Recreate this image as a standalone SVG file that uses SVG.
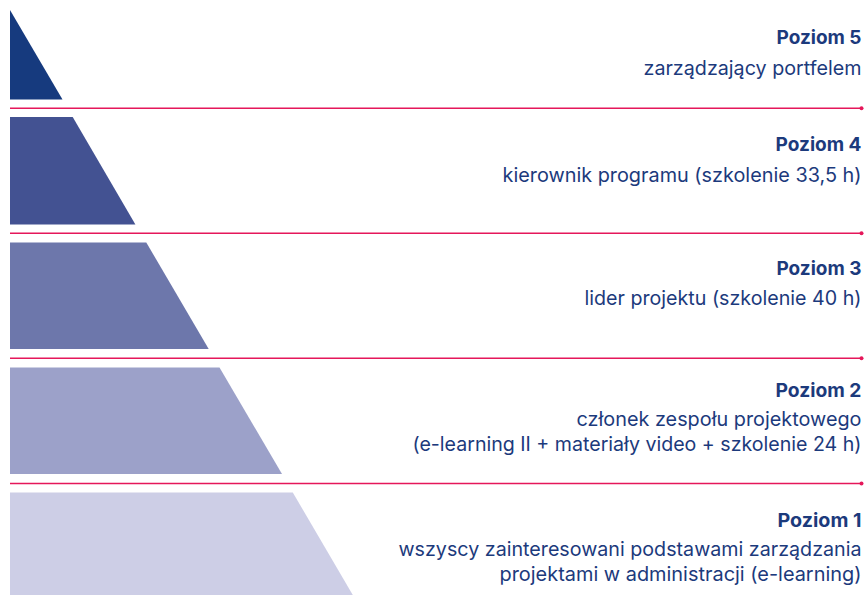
<svg xmlns="http://www.w3.org/2000/svg" width="866" height="595" viewBox="0 0 866 595">
<style>
.t{font-family:Inter,"Open Sans","Liberation Sans",sans-serif;font-weight:700;font-size:19px;fill:#1c3a7c;text-anchor:end}
.s{font-family:Inter,"Open Sans","Liberation Sans",sans-serif;font-weight:400;font-size:19.5px;fill:#1c3a7c;text-anchor:end}
.sep{stroke:#e5175a;stroke-width:1.6;fill:none}
.dot{fill:#e5175a}
</style>
<rect width="866" height="595" fill="#ffffff"/>
<g id="level5">
<polygon points="10,10 62.5,99.5 10,99.5" fill="#163a7e"/>
<text class="t" x="861.5" y="44" textLength="85" lengthAdjust="spacingAndGlyphs">Poziom 5</text>
<text class="s" x="861.5" y="75" textLength="218" lengthAdjust="spacingAndGlyphs">zarządzający portfelem</text>
</g>
<g id="level4">
<polygon points="10,117 72.7,117 135.4,224.5 10,224.5" fill="#435292"/>
<text class="t" x="861.5" y="151" textLength="86" lengthAdjust="spacingAndGlyphs">Poziom 4</text>
<text class="s" x="861.5" y="181.5" textLength="359" lengthAdjust="spacingAndGlyphs">kierownik programu (szkolenie 33,5 h)</text>
</g>
<g id="level3">
<polygon points="10,242.5 146.3,242.5 208.7,349 10,349" fill="#6d77ab"/>
<text class="t" x="861.5" y="274.5" textLength="85" lengthAdjust="spacingAndGlyphs">Poziom 3</text>
<text class="s" x="861.5" y="305" textLength="277" lengthAdjust="spacingAndGlyphs">lider projektu (szkolenie 40 h)</text>
</g>
<g id="level2">
<polygon points="10,367.5 219.5,367.5 282,474 10,474" fill="#9ca1c9"/>
<text class="t" x="861.5" y="397" textLength="86" lengthAdjust="spacingAndGlyphs">Poziom 2</text>
<text class="s" x="861.5" y="426" textLength="285" lengthAdjust="spacingAndGlyphs">członek zespołu projektowego</text>
<text class="s" x="861.5" y="451" textLength="449" lengthAdjust="spacingAndGlyphs">(e-learning II + materiały video + szkolenie 24 h)</text>
</g>
<g id="level1">
<polygon points="10,492.5 292.8,492.5 352.8,595 10,595" fill="#cdcee6"/>
<text class="t" x="861.5" y="526.5" textLength="84" lengthAdjust="spacingAndGlyphs">Poziom 1</text>
<text class="s" x="861.5" y="556" textLength="463" lengthAdjust="spacingAndGlyphs">wszyscy zainteresowani podstawami zarządzania</text>
<text class="s" x="861.5" y="581" textLength="362" lengthAdjust="spacingAndGlyphs">projektami w administracji (e-learning)</text>
</g>
<g id="connectors">
<line class="sep" x1="10" y1="108.3" x2="861" y2="108.3"/>
<circle class="dot" cx="861.5" cy="108.3" r="2"/>
<line class="sep" x1="10" y1="233.3" x2="861" y2="233.3"/>
<circle class="dot" cx="861.5" cy="233.3" r="2"/>
<line class="sep" x1="10" y1="358.3" x2="861" y2="358.3"/>
<circle class="dot" cx="861.5" cy="358.3" r="2"/>
<line class="sep" x1="10" y1="483.5" x2="861" y2="483.5"/>
<circle class="dot" cx="861.5" cy="483.5" r="2"/>
</g>
</svg>
